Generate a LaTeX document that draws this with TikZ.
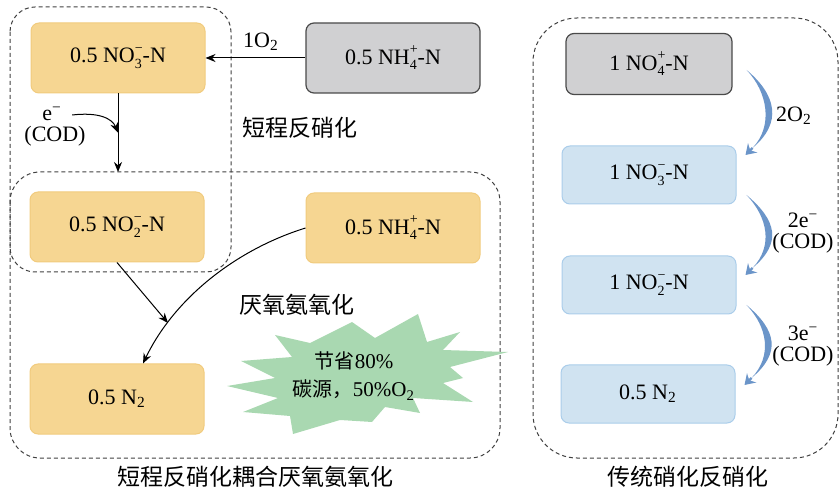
\documentclass[tikz,border=0pt]{standalone}
\usepackage{fontspec}
\setmainfont{Liberation Serif}
\newfontfamily\cjk{Noto Sans CJK SC}
\usetikzlibrary{calc,arrows.meta}
\definecolor{orfill}{HTML}{F6D692}
\definecolor{ordraw}{HTML}{F1CB7E}
\definecolor{grfill}{HTML}{D0D0D2}
\definecolor{grdraw}{HTML}{4A4A4A}
\definecolor{blfill}{HTML}{D0E3F1}
\definecolor{bldraw}{HTML}{AACDEA}
\definecolor{blarrow}{HTML}{6B95C9}
\definecolor{burst}{HTML}{A9D8B1}
\newcommand\ssp[2]{\rlap{\raisebox{-2.8pt}{\fontsize{7}{7}\selectfont #1}}\raisebox{5.2pt}{\fontsize{7}{7}\selectfont #2}}
\newcommand\bluearrow[3]{%
  \fill[blarrow] (#1) .. controls +(30,25) and +(30,-25) .. (#2)
     .. controls +(21,-22) and +(21,22) .. (#1);
  \draw[blarrow, line width=1.2pt, -{Stealth[length=5pt,width=6.5pt]}] (#2) -- (#3);}
\begin{document}
\begin{tikzpicture}[x=0.5pt,y=-0.5pt, font=\fontsize{11}{13}\selectfont,
  box/.style={rounded corners=4pt, minimum width=87pt, minimum height=35pt, inner sep=0pt, line width=0.5pt},
  orbox/.style={box, fill=orfill, draw=ordraw},
  gybox/.style={box, fill=grfill, draw=grdraw, line width=0.6pt},
  blbox/.style={box, fill=blfill, draw=bldraw, minimum height=29pt},
  grp/.style={draw=black!75, dash pattern=on 2pt off 1.5pt, line width=0.5pt},
  arr/.style={-{Stealth[length=5pt,width=4pt]}, line width=0.5pt},
  lbl/.style={inner sep=0pt},
  zh/.style={inner sep=0pt, font=\cjk\fontsize{11.5}{13}\selectfont}]
\useasboundingbox (0,0) rectangle (840,491);

% group frames
\draw[grp, rounded corners=12.5pt] (10,7) rectangle (231,272);
\draw[grp, rounded corners=15pt] (10,172) rectangle (500,458);
\draw[grp, rounded corners=22pt] (533,18) rectangle (838,458);

% starburst
\fill[burst] (227,386) -- (275,378) -- (241,361) -- (292,357) -- (275,335) -- (310,343)
  -- (352,322) -- (375,338) -- (418,314) -- (427,342) -- (460,332) -- (443,350)
  -- (508,352) -- (450,367) -- (463,378) -- (443,383) -- (473,402) -- (413,398)
  -- (420,413) -- (385,407) -- (372,422) -- (340,420) -- (293,434) -- (290,416)
  -- (243,412) -- (278,398) -- cycle;
\node[align=center, inner sep=0pt, font=\fontsize{10.5}{14}\selectfont] (sb) at (354,376)
  {{\cjk\fontsize{10}{14}\selectfont 节省}80\%\\{\cjk\fontsize{10}{14}\selectfont 碳源，}50\%O\textsubscript{2}};

% left nodes
\node[orbox] (a3) at (118,58) {0.5 NO\ssp{3}{−}-N};
\node[gybox] (a4) at (393,58) {0.5 NH\ssp{4}{+}-N};
\node[orbox] (a2) at (117,227) {0.5 NO\ssp{2}{−}-N};
\node[orbox] (b4) at (393,228) {0.5 NH\ssp{4}{+}-N};
\node[orbox] (an) at (117,399) {0.5 N\textsubscript{2}};

% right nodes
\node[gybox, minimum width=83pt, minimum height=30.5pt] (r1) at (649,64) {1 NO\ssp{4}{+}-N};
\node[blbox] (r2) at (649,175) {1 NO\ssp{3}{−}-N};
\node[blbox] (r3) at (649,285) {1 NO\ssp{2}{−}-N};
\node[blbox] (r4) at (648,394) {0.5 N\textsubscript{2}};

% left connectors
\draw[arr] (a4.west) -- (a3.east);
\node[lbl] (l1) at (261,42) {1O\textsubscript{2}};
\coordinate (g2top) at (118,172);
\draw[arr] (a3.south) -- (g2top);
\coordinate (mid) at ($(a3.south)!0.5!(g2top)$);
\node[lbl] (le) at (52,114) {e\textsuperscript{−}};
\node[lbl] (lc) at (55,136) {(COD)};
\draw[arr] ($(le.east)+(10,1)$) .. controls (98,112) and (112,118) .. (mid);
\coordinate (j) at (168,323);
\draw[arr] (a2.south) -- (j);
\draw[arr] (b4.west) .. controls (235,250) and (174,299) .. ($(an.north)+(26,0)$);

% left texts
\node[zh] (t1) at (300,128) {短程反硝化};
\node[zh] (t2) at (297,305) {厌氧氨氧化};
\node[zh] (t3) at (255,477) {短程反硝化耦合厌氧氨氧化};
\node[zh] (t4) at (688,477) {传统硝化反硝化};

% right arrows
\coordinate (s1) at ($(r1.east)+(14,6)$);
\coordinate (e1) at ($(r2.east)+(16,-27)$);
\coordinate (p1) at ($(r2.east)+(9,-20)$);
\coordinate (s2) at ($(r2.east)+(10,20)$);
\coordinate (e2) at ($(r3.east)+(16,-17)$);
\coordinate (p2) at ($(r3.east)+(9,-10)$);
\coordinate (s3) at ($(r3.east)+(10,20)$);
\coordinate (e3) at ($(r4.east)+(16,-16)$);
\coordinate (p3) at ($(r4.east)+(9,-9)$);
\bluearrow{s1}{e1}{p1}
\bluearrow{s2}{e2}{p2}
\bluearrow{s3}{e3}{p3}
\node[lbl] (q1) at (794,116) {2O\textsubscript{2}};
\node[lbl] (q2) at (803,220) {2e\textsuperscript{−}};
\node[lbl] (q3) at (803,243) {(COD)};
\node[lbl] (q4) at (803,333) {3e\textsuperscript{−}};
\node[lbl] (q5) at (803,356) {(COD)};
\end{tikzpicture}
\end{document}
